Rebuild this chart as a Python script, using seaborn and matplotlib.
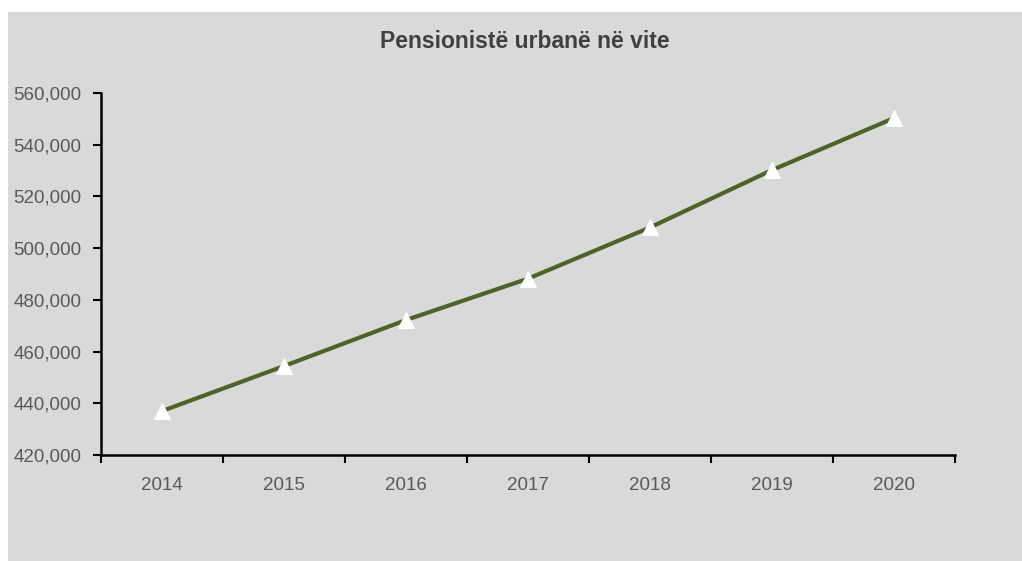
import numpy as np
import pandas as pd
import matplotlib
matplotlib.use("Agg")
import matplotlib.pyplot as plt
import matplotlib.ticker as mticker
from matplotlib.patches import Rectangle
import seaborn as sns

# Data
years = ["2014", "2015", "2016", "2017", "2018", "2019", "2020"]
pensioners = [437000, 454400, 472200, 488200, 508000, 530200, 550300]

df = pd.DataFrame({"pos": np.arange(len(years)), "value": pensioners})

sns.set_style("white")
plt.rcParams["font.family"] = ["Liberation Sans", "DejaVu Sans"]

bg = "#d9d9d9"
fig = plt.figure(figsize=(10.22, 5.61), dpi=100)
fig.patch.set_facecolor("white")
fig.patches.append(Rectangle((8 / 1022, 0), 1, 1 - 12 / 561, transform=fig.transFigure,
                             facecolor=bg, edgecolor="none", zorder=-10))

ax = fig.add_axes([101 / 1022, 1 - 455 / 561, (955 - 101) / 1022, (455 - 93) / 561])
ax.set_facecolor(bg)

sns.lineplot(data=df, x="pos", y="value", ax=ax, color="#4f6228", linewidth=3,
             marker="^", markersize=12, markerfacecolor="white", markeredgecolor="white")

ax.set_xlim(-0.5, len(years) - 0.5)
ax.set_ylim(420000, 560000)
ax.set_yticks(np.arange(420000, 560001, 20000))
ax.yaxis.set_major_formatter(mticker.FuncFormatter(lambda v, p: f"{int(v):,}"))

# labels in the middle of each category, tick marks on the boundaries
ax.set_xticks(np.arange(len(years)))
ax.set_xticklabels(years)
ax.set_xticks(np.arange(-0.5, len(years)), minor=True)
ax.tick_params(axis="x", which="major", bottom=True, length=0, pad=16, labelsize=13.5,
               labelcolor="#595959")
ax.tick_params(axis="x", which="minor", bottom=True, length=6, width=1.5, direction="out",
               color="black")
ax.tick_params(axis="y", left=True, length=6, width=1.5, direction="out", color="black",
               labelsize=13.5, labelcolor="#595959", pad=8)

for side in ["top", "right"]:
    ax.spines[side].set_visible(False)
for side in ["left", "bottom"]:
    ax.spines[side].set_color("black")
    ax.spines[side].set_linewidth(1.8)

ax.set_xlabel("")
ax.set_ylabel("")

fig.text(0.514, 1 - 42 / 561, "Pensionistë urbanë në vite", ha="center", va="center",
         fontsize=16.5, fontweight="bold", color="#404040")

fig.savefig("out.png", dpi=100, facecolor=fig.get_facecolor())
